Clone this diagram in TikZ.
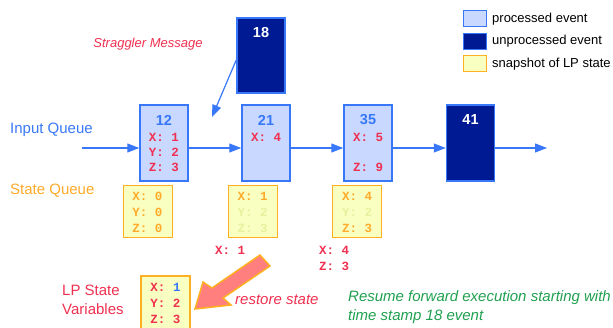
\documentclass[tikz,border=0pt]{standalone}
\usepackage{fontspec}
\setmainfont{Liberation Sans}
\newfontfamily\codefont{Liberation Mono}
\usetikzlibrary{calc}
\usetikzlibrary{arrows.meta}
\definecolor{evblue}{HTML}{3878F8}
\definecolor{proclight}{HTML}{C8D8FF}
\definecolor{unprocnavy}{HTML}{001A94}
\definecolor{snapfill}{HTML}{F8FFC0}
\definecolor{snapline}{HTML}{FFB020}
\definecolor{varred}{HTML}{F03050}
\definecolor{queueorange}{HTML}{FFAA2A}
\definecolor{fadeyellow}{HTML}{E8F0A0}
\definecolor{resumegreen}{HTML}{20A050}
\definecolor{restorepink}{HTML}{FF7E7E}
\tikzset{
  procbox/.style={draw=evblue,fill=proclight,line width=1.5pt,minimum width=48pt,minimum height=76pt,inner sep=0pt},
  unprocbox/.style={procbox,fill=unprocnavy},
  snapbox/.style={draw=snapline,fill=snapfill,line width=1pt,minimum width=49pt,minimum height=52pt,inner sep=0pt},
  keybox/.style={line width=1pt,minimum width=23pt,minimum height=16pt,inner sep=0pt},
  keytext/.style={anchor=west,font=\fontsize{13}{15}\selectfont,inner sep=0pt},
  stamp/.style={font=\fontsize{14.5}{16}\selectfont\bfseries,text=evblue,inner sep=0pt},
  var/.style={font=\fontsize{12.5}{14}\codefont\bfseries,text=varred,inner sep=0pt},
  sidetext/.style={font=\fontsize{15}{19}\selectfont,inner sep=0pt},
  flow/.style={->,evblue,line width=1.2pt}
}
\begin{document}
\begin{tikzpicture}[x=1pt,y=-1pt,>={Triangle[length=12pt,width=9pt]}]
\useasboundingbox (0,0) rectangle (613,328);
\clip (0,0) rectangle (613,328);
% legend
\node[keybox,draw=evblue,fill=proclight] (kproc) at (474.5,19) {};
\node[keybox,draw=evblue,fill=unprocnavy] (kunproc) at (474.5,41.5) {};
\node[keybox,draw=snapline,fill=snapfill] (ksnap) at (474.5,64) {};
\node[keytext] (tproc) at (492,19) {processed event};
\node[keytext] (tunproc) at (492,41.5) {unprocessed event};
\node[keytext] (tsnap) at (492,64) {snapshot of LP state};
% events
\node[procbox] (e12) at (164,143) {};
\node[procbox] (e21) at (266,143) {};
\node[procbox] (e35) at (368,143) {};
\node[unprocbox] (e41) at (470.5,143) {};
\node[unprocbox,minimum height=75pt] (e18) at (261,55.5) {};
\node[stamp] (s12) at (164,120) {12};
\node[var] (x12) at (164,137) {X: 1};
\node[var] (y12) at (164,152) {Y: 2};
\node[var] (z12) at (164,167) {Z: 3};
\node[stamp] (s21) at (266,120) {21};
\node[var] (x21) at (266,137) {X: 4};
\node[stamp] (s35) at (368,120) {35};
\node[var] (x35) at (368,137) {X: 5};
\node[var] (z35) at (368,167) {Z: 9};
\node[stamp,text=white] (s41) at (470.5,120) {41};
\node[stamp,text=white] (s18) at (261,33) {18};
% queue
\coordinate (qin) at (82,148);
\coordinate (qout) at (547,148);
\draw[flow] (qin) -- (qin -| e12.west);
\draw[flow] (qin -| e12.east) -- (qin -| e21.west);
\draw[flow] (qin -| e21.east) -- (qin -| e35.west);
\draw[flow] (qin -| e35.east) -- (qin -| e41.west);
\draw[flow] (qin -| e41.east) -- (qout);
\coordinate (hit) at (212,117);
\draw[flow] ($(e18.west)+(0,4.5)$) -- (hit);
% snapshots
\node[snapbox] (q1) at (147.5,212) {};
\node[snapbox] (q2) at (252.5,212) {};
\node[snapbox] (q3) at (357,212) {};
\node[var,text=queueorange] (qx1) at (147.5,196) {X: 0};
\node[var,text=queueorange] (qy1) at (147.5,212) {Y: 0};
\node[var,text=queueorange] (qz1) at (147.5,228) {Z: 0};
\node[var,text=queueorange] (qx2) at (252.5,196) {X: 1};
\node[var,text=fadeyellow] (qy2) at (252.5,212) {Y: 2};
\node[var,text=fadeyellow] (qz2) at (252.5,228) {Z: 3};
\node[var,text=queueorange] (qx3) at (357,196) {X: 4};
\node[var,text=fadeyellow] (qy3) at (357,212) {Y: 2};
\node[var,text=queueorange] (qz3) at (357,228) {Z: 3};
\node[var] (ux1) at (230,250) {X: 1};
\node[var] (ux4) at (334,250) {X: 4};
\node[var] (uz3) at (334,266) {Z: 3};
% LP state
\node[draw=snapline,fill=snapfill,line width=2.2pt,minimum width=49pt,minimum height=60pt,inner sep=0pt] (lp) at (165.5,306) {};
\node[var] (lx) at (165.5,287) {X: {\color{evblue}1}};
\node[var] (ly) at (165.5,303) {Y: 2};
\node[var] (lz) at (165.5,319) {Z: 3};
\filldraw[fill=restorepink,draw=snapline,line width=1.5pt] (260,255) -- (270,266) -- (223,298)
    -- (231,305) -- (195,309) -- (203,282) -- (212,288) -- cycle;
% texts
\node[sidetext,font=\fontsize{13}{15}\selectfont\itshape,text=varred] (strag) at (148,44) {Straggler Message};
\node[sidetext,text=evblue,anchor=west] (inq) at (10,130) {Input Queue};
\node[sidetext,text=queueorange,anchor=west] (stq) at (10,191) {State Queue};
\node[sidetext,text=varred,anchor=west,align=left] (lpv) at (62,299.5) {LP State\\Variables};
\node[sidetext,font=\fontsize{15}{19}\selectfont\itshape,text=varred,anchor=west] (rst) at (235,300) {restore state};
\node[sidetext,font=\fontsize{15}{19}\selectfont\itshape,text=resumegreen,anchor=west,align=left] (resume) at (348,307.5) {Resume forward execution starting with\\time stamp 18 event};
\end{tikzpicture}
\end{document}
